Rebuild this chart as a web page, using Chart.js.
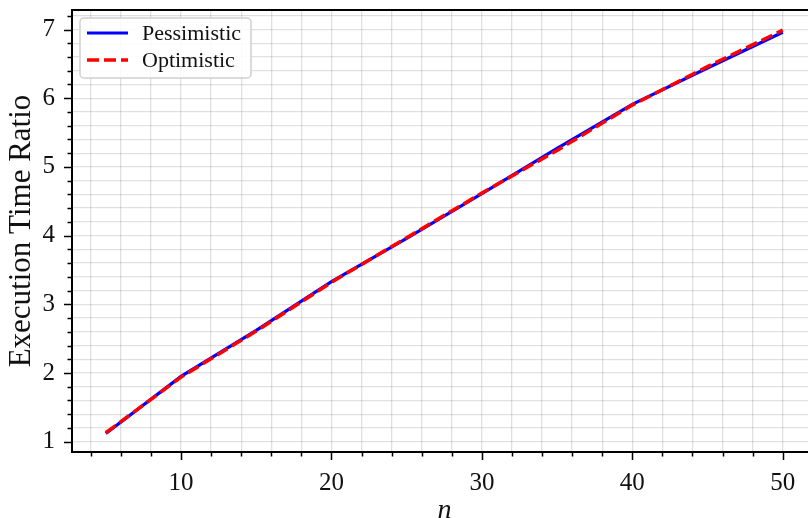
<!DOCTYPE html>
<html>
<head>
<meta charset="utf-8">
<script src="https://cdn.jsdelivr.net/npm/chart.js@4.4.1/dist/chart.umd.min.js"></script>
<style>
  html, body { margin: 0; background: #fff; overflow: hidden; }
  #wrap { width: 817px; height: 518px; }
</style>
</head>
<body>
<div id="wrap"><canvas id="myChart"></canvas></div>
<script>
// values
const nValues = [5, 10, 15, 20, 25, 30, 35, 40, 45, 50];
const pessimistic = [1.12, 1.95, 2.62, 3.33, 3.96, 4.61, 5.27, 5.91, 6.44, 6.96];
const optimistic = [1.13, 1.94, 2.61, 3.32, 3.97, 4.62, 5.24, 5.90, 6.46, 6.99];
const seriesNames = ['Pessimistic', 'Optimistic'];

const serif = "'Liberation Serif', 'DejaVu Serif', serif";
const gridColor = 'rgba(0,0,0,0.12)';

function toPoints(xs, ys) {
    return xs.map((x, i) => ({ x: x, y: ys[i] }));
}

function isWhole(v, step) {
    return Math.abs(v / step - Math.round(v / step)) < 1e-6;
}

// tick marks (long at labelled ticks, short at the others) and the top spine
const frame = {
    id: 'frame',
    afterDraw(chart) {
        const c = chart.ctx;
        const a = chart.chartArea;
        const xs = chart.scales.x;
        const ys = chart.scales.y;
        c.save();
        c.strokeStyle = '#000';
        c.lineWidth = 1.5;
        c.beginPath();
        xs.ticks.forEach(t => {
            const px = Math.round(xs.getPixelForValue(t.value)) + 0.5;
            const len = isWhole(t.value, 10) ? 8 : 4.5;
            c.moveTo(px, a.bottom);
            c.lineTo(px, a.bottom + len);
        });
        ys.ticks.forEach(t => {
            const py = Math.round(ys.getPixelForValue(t.value)) + 0.5;
            const len = isWhole(t.value, 1) ? 8 : 4.5;
            c.moveTo(a.left, py);
            c.lineTo(a.left - len, py);
        });
        c.stroke();
        c.lineWidth = 2;
        c.beginPath();
        c.moveTo(a.left - 1, a.top);
        c.lineTo(a.right, a.top);
        c.stroke();
        c.restore();
    }
};

// legend box in the upper left corner of the plot
const legendBox = {
    id: 'legendBox',
    afterDraw(chart) {
        const c = chart.ctx;
        const a = chart.chartArea;
        const x0 = a.left + 8, y0 = a.top + 8, w = 171, h = 60;
        c.save();
        c.fillStyle = 'rgba(255,255,255,0.85)';
        c.strokeStyle = '#d0d0d0';
        c.lineWidth = 1.5;
        c.beginPath();
        c.roundRect(x0, y0, w, h, 4);
        c.fill();
        c.stroke();
        chart.data.datasets.forEach((ds, i) => {
            const y = y0 + 15 + i * 27;
            c.strokeStyle = ds.borderColor;
            c.lineWidth = ds.borderWidth;
            c.setLineDash(ds.borderDash || []);
            c.beginPath();
            c.moveTo(x0 + 7, y);
            c.lineTo(x0 + 48, y);
            c.stroke();
            c.setLineDash([]);
            c.fillStyle = '#111';
            c.font = '22px ' + serif;
            c.textBaseline = 'middle';
            c.fillText(ds.label, x0 + 62, y + 1);
        });
        c.restore();
    }
};

const ctx = document.getElementById('myChart').getContext('2d');
const myChart = new Chart(ctx, {
    type: 'line',
    data: {
        datasets: [{
            label: seriesNames[0],
            data: toPoints(nValues, pessimistic),
            borderColor: '#0000ff',
            borderWidth: 3.2,
            pointRadius: 0,
            order: 1
        }, {
            label: seriesNames[1],
            data: toPoints(nValues, optimistic),
            borderColor: '#ff0000',
            borderWidth: 3.5,
            borderDash: [12, 5],
            pointRadius: 0,
            order: 0
        }]
    },
    options: {
        responsive: true,
        maintainAspectRatio: false,
        animation: false,
        layout: { padding: { top: 10, right: 0, left: 0, bottom: 0 } },
        plugins: {
            legend: { display: false },
            tooltip: { enabled: false }
        },
        scales: {
            x: {
                type: 'linear',
                min: 2.75,
                max: 52.28,
                afterFit: s => { s.height = 66; s.paddingLeft = 0; s.paddingRight = 0; },
                grid: {
                    color: c => (c.tick && c.tick.value > 50.5) ? 'rgba(0,0,0,0)' : gridColor,
                    lineWidth: 1.3,
                    drawTicks: false
                },
                border: { color: '#000', width: 2 },
                ticks: {
                    stepSize: 2,
                    includeBounds: false,
                    autoSkip: false,
                    maxRotation: 0,
                    padding: 16,
                    color: '#111',
                    font: { family: serif, size: 25 },
                    callback: v => isWhole(v, 10) ? String(Math.round(v)) : ''
                },
                title: {
                    display: true,
                    text: 'n',
                    color: '#111',
                    font: { family: serif, size: 28, style: 'italic' },
                    padding: { top: 0, bottom: -9 }
                }
            },
            y: {
                min: 0.85,
                max: 7.284,
                afterFit: s => { s.width = 72; s.paddingTop = 0; s.paddingBottom = 0; },
                grid: { color: gridColor, lineWidth: 1.3, drawTicks: false },
                border: { color: '#000', width: 2 },
                ticks: {
                    stepSize: 0.2,
                    includeBounds: false,
                    autoSkip: false,
                    padding: 17,
                    color: '#111',
                    font: { family: serif, size: 25 },
                    callback: v => isWhole(v, 1) ? String(Math.round(v)) : ''
                },
                title: {
                    display: true,
                    text: 'Execution Time Ratio',
                    color: '#111',
                    font: { family: serif, size: 31 },
                    padding: { top: 3, bottom: 0 }
                }
            }
        }
    },
    plugins: [frame, legendBox]
});
</script>
</body>
</html>
